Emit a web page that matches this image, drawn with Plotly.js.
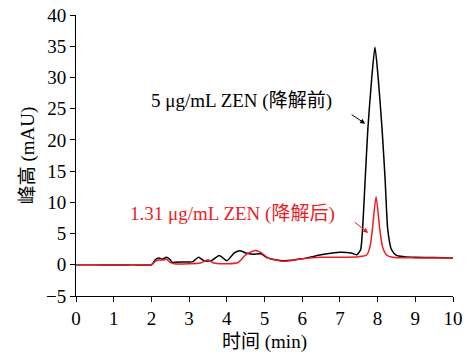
<!DOCTYPE html>
<html>
<head>
<meta charset="utf-8">
<script src="https://cdn.plot.ly/plotly-3.0.1.min.js"></script>
<style>html,body{margin:0;padding:0;background:#fff;}#chart{width:468px;height:358px;}
#chart svg text{font-family:'Liberation Serif','Noto Sans CJK SC',serif !important;}</style>
</head>
<body>
<div id="chart"></div>
<script>
// Black: 5 μg/mL ZEN (before degradation)
var blackTime = [0, 0.5, 1.0, 1.5, 2.0, 2.05, 2.1, 2.2, 2.3, 2.4, 2.5, 2.55, 2.6, 2.8, 3.0, 3.1, 3.25, 3.4, 3.6, 3.8, 4.0, 4.2, 4.35, 4.5, 4.7, 4.9, 5.1, 5.5, 6.0, 6.5, 7.0, 7.3, 7.45, 7.49, 7.55, 7.6, 7.67, 7.74, 7.84, 7.93, 8.02, 8.12, 8.2, 8.27, 8.37, 8.5, 8.7, 9.0, 9.5, 10.0];
var blackValue = [0, 0, -0.05, 0, 0, 0.3, 0.8, 1.07, 0.9, 1.2, 0.8, 0.37, 0.4, 0.45, 0.45, 0.5, 1.2, 0.65, 0.7, 1.5, 0.65, 1.9, 2.25, 1.9, 1.7, 1.75, 1.07, 0.65, 0.96, 1.6, 2.0, 1.87, 1.6, 1.85, 2.4, 5.6, 13.6, 21.6, 29.6, 34.85, 29.6, 21.6, 13.6, 5.6, 2.4, 1.5, 1.3, 1.2, 1.15, 1.1];
// Red: 1.31 μg/mL ZEN (after degradation)
var redTime = [0, 0.5, 1.0, 1.5, 2.0, 2.05, 2.1, 2.2, 2.3, 2.4, 2.5, 2.6, 3.0, 3.3, 3.5, 3.65, 4.0, 4.3, 4.5, 4.75, 4.9, 5.1, 5.5, 6.0, 6.5, 7.0, 7.5, 7.71, 7.8, 7.86, 7.96, 8.06, 8.13, 8.24, 8.4, 9.0, 10.0];
var redValue = [0, 0, -0.05, 0, 0, 0.2, 0.55, 0.75, 0.75, 0.9, 0.37, 0.16, 0.16, 0.27, 0.8, 0.27, 0.16, 0.37, 1.6, 2.3, 1.98, 1.07, 0.55, 0.96, 1.2, 1.2, 1.3, 1.57, 2.9, 5.6, 10.9, 5.6, 2.9, 1.57, 1.2, 1.1, 1.07];
var xTicks = [0,1,2,3,4,5,6,7,8,9,10];
var yTicks = [-5,0,5,10,15,20,25,30,35,40];
var labelBlack = '5 μg/mL ZEN (降解前)';
var labelRed = '1.31 μg/mL ZEN (降解后)';
var xTitle = '时间 (min)';
var yTitle = '峰高 (mAU)';

var RED = 'rgb(237,28,36)';
var FONT = 'Liberation Serif';

function draw() {
  var traces = [
    {x: blackTime, y: blackValue, mode: 'lines', line: {color: '#000', width: 1.5, shape: 'spline', smoothing: 0.6}, hoverinfo: 'skip'},
    {x: redTime, y: redValue, mode: 'lines', line: {color: RED, width: 1.5, shape: 'spline', smoothing: 0.6}, hoverinfo: 'skip'}
  ];
  var layout = {
    width: 468, height: 358,
    margin: {l: 76, r: 15, t: 15, b: 62},
    paper_bgcolor: '#fff', plot_bgcolor: '#fff',
    showlegend: false,
    font: {family: FONT, size: 19, color: '#000'},
    xaxis: {
      range: [0, 10], tickvals: xTicks, ticktext: xTicks.map(String),
      showgrid: false, zeroline: false, showline: true, linecolor: '#000', linewidth: 1,
      ticks: 'outside', ticklen: 5, tickcolor: '#000', tickfont: {family: FONT, size: 19, color: '#000'},
      title: {text: xTitle, font: {family: FONT, size: 19, color: '#000'}, standoff: 6}
    },
    yaxis: {
      range: [-5, 40], tickvals: yTicks, ticktext: yTicks.map(function(v){return v < 0 ? '−' + Math.abs(v) : String(v);}),
      showgrid: false, zeroline: false, showline: true, linecolor: '#000', linewidth: 1,
      ticks: 'outside', ticklen: 5, tickcolor: '#000', tickfont: {family: FONT, size: 19, color: '#000'},
      title: {text: yTitle, font: {family: FONT, size: 19, color: '#000'}, standoff: 6}
    },
    annotations: [
      {x: 4.38, y: 26.25, xref: 'x', yref: 'y', text: labelBlack, showarrow: false, font: {family: FONT, size: 19, color: '#000'}},
      {x: 4.16, y: 8.1, xref: 'x', yref: 'y', text: labelRed, showarrow: false, font: {family: FONT, size: 19, color: RED}},
      {x: 7.67, y: 22.6, xref: 'x', yref: 'y', text: '', showarrow: true, ax: -15, ay: -10, arrowhead: 2, arrowsize: 1, arrowwidth: 1, arrowcolor: '#000'},
      {x: 7.75, y: 5.1, xref: 'x', yref: 'y', text: '', showarrow: true, ax: -15, ay: -12, arrowhead: 2, arrowsize: 1, arrowwidth: 1, arrowcolor: RED}
    ]
  };
  Plotly.newPlot('chart', traces, layout, {staticPlot: true, displayModeBar: false});
}

if (document.fonts && document.fonts.load) {
  Promise.all([
    document.fonts.load('19px "Liberation Serif"', '0123456789 μg/mL ZEN()'),
    document.fonts.load('19px "Noto Sans CJK SC"', '降解前后峰高时间')
  ]).then(draw, draw);
} else {
  draw();
}
</script>
</body>
</html>
